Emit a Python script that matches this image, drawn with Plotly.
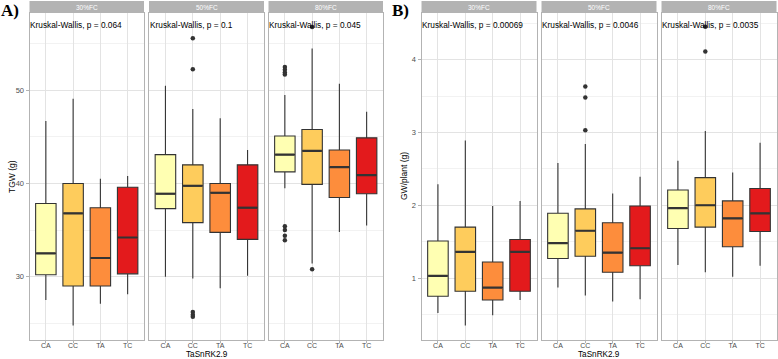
import plotly.graph_objects as go

genotypes = ["CA", "CC", "TA", "TC"]
facets = ["30%FC", "50%FC", "80%FC"]
fill_colors = ["#FFFFB2", "#FECC5C", "#FD8D3C", "#E31A1C"]

# ---- Panel A: TGW (g) ----  rows = facets, cols = genotypes
tgw_lower = [[27.5, 24.75, 27.1, 28.1], [30.0, 29.8, 28.75, 30.1], [39.5, 31.4, 34.8, 35.5]]
tgw_q1 = [[30.2, 29.0, 29.0, 30.3], [37.3, 35.8, 34.75, 34.0], [41.25, 39.9, 38.5, 38.9]]
tgw_median = [[32.5, 36.8, 32.0, 34.2], [38.9, 39.75, 39.0, 37.4], [43.1, 43.5, 41.75, 40.9]]
tgw_q3 = [[37.85, 40.0, 37.4, 39.6], [43.1, 42.0, 40.0, 42.0], [45.1, 45.8, 43.6, 44.9]]
tgw_upper = [[46.7, 49.1, 40.5, 40.8], [50.5, 48.0, 47.0, 43.6], [49.5, 54.5, 50.7, 47.7]]
tgw_outliers = [
    [[], [], [], []],
    [[], [55.6, 52.25, 26.2, 25.9, 25.7], [], []],
    [[52.5, 52.2, 51.9, 51.7, 35.4, 35.0, 34.4, 33.9], [56.8, 30.8], [], []],
]
tgw_pvalues = ["0.064", "0.1", "0.045"]

# ---- Panel B: GW/plant (g) ----
gw_lower = [[0.52, 0.35, 0.49, 0.70], [0.87, 0.76, 0.68, 0.71], [1.18, 1.08, 1.02, 1.17]]
gw_q1 = [[0.75, 0.82, 0.70, 0.82], [1.27, 1.30, 1.08, 1.17], [1.68, 1.70, 1.43, 1.64]]
gw_median = [[1.03, 1.36, 0.87, 1.36], [1.48, 1.65, 1.35, 1.41], [1.96, 2.00, 1.82, 1.89]]
gw_q3 = [[1.51, 1.70, 1.22, 1.53], [1.89, 1.95, 1.76, 1.99], [2.21, 2.38, 2.06, 2.23]]
gw_upper = [[2.29, 2.89, 1.99, 2.06], [2.58, 2.84, 2.16, 2.39], [2.61, 3.02, 2.45, 2.86]]
gw_outliers = [
    [[], [], [], []],
    [[], [3.63, 3.48, 3.03], [], []],
    [[], [4.45, 4.11], [], []],
]
gw_pvalues = ["0.00069", "0.0046", "0.0035"]

W, H = 778, 359
plot_top, plot_bottom = 13, 340
strip_top = 1

panels_px = [
    (29.5, 144), (149, 264), (268.5, 383),      # A
    (421.5, 536.5), (541.5, 656.5), (661.5, 776.5),  # B
]

def px_x(p):
    return p / W

def px_y(p):
    return 1 - p / H

traits = [
    dict(lower=tgw_lower, q1=tgw_q1, med=tgw_median, q3=tgw_q3, up=tgw_upper,
         out=tgw_outliers, pv=tgw_pvalues, yrange=[23.2, 58.3], dtick=10,
         ytitle="TGW (g)", label="A)"),
    dict(lower=gw_lower, q1=gw_q1, med=gw_median, q3=gw_q3, up=gw_upper,
         out=gw_outliers, pv=gw_pvalues, yrange=[0.15, 4.64], dtick=1,
         ytitle="GW/plant (g)", label="B)"),
]

fig = go.Figure()
layout = dict(
    width=W, height=H, margin=dict(l=0, r=0, t=0, b=0),
    paper_bgcolor="white", plot_bgcolor="white", showlegend=False,
    font=dict(family="Liberation Sans, Arial, sans-serif", color="#333333"),
)
annotations = []
shapes = []

box_w = 0.75
line_col = "#333333"

for t_i, tr in enumerate(traits):
    for f_i, facet in enumerate(facets):
        k = t_i * 3 + f_i + 1
        xa = "x" if k == 1 else f"x{k}"
        ya = "y" if k == 1 else f"y{k}"
        xl, xr = panels_px[k - 1]
        for g_i, g in enumerate(genotypes):
            fig.add_trace(go.Box(
                x=[g_i], q1=[tr["q1"][f_i][g_i]], median=[tr["med"][f_i][g_i]],
                q3=[tr["q3"][f_i][g_i]], lowerfence=[tr["lower"][f_i][g_i]],
                upperfence=[tr["up"][f_i][g_i]], width=box_w, whiskerwidth=0,
                fillcolor=fill_colors[g_i], line=dict(color=line_col, width=1.1),
                boxpoints=False, xaxis=xa, yaxis=ya, hoverinfo="skip",
            ))
            m = tr["med"][f_i][g_i]
            fig.add_trace(go.Scatter(
                x=[g_i - box_w / 2 + 0.02, g_i + box_w / 2 - 0.02], y=[m, m],
                mode="lines", line=dict(color=line_col, width=2.2),
                xaxis=xa, yaxis=ya, hoverinfo="skip",
            ))
            outs = tr["out"][f_i][g_i]
            if outs:
                fig.add_trace(go.Scatter(
                    x=[g_i] * len(outs), y=outs, mode="markers",
                    marker=dict(color=line_col, size=4.5),
                    xaxis=xa, yaxis=ya, hoverinfo="skip",
                ))
        xkey = "xaxis" if k == 1 else f"xaxis{k}"
        ykey = "yaxis" if k == 1 else f"yaxis{k}"
        layout[xkey] = dict(
            domain=[px_x(xl), px_x(xr)], anchor=ya, range=[-0.6, 3.6],
            tickmode="array", tickvals=list(range(4)), ticktext=genotypes,
            showgrid=True, gridcolor="#e3e3e3", gridwidth=1, zeroline=False,
            showline=True, mirror=True, linecolor="#b3b3b3", linewidth=1,
            ticks="outside", ticklen=2, tickcolor="#b3b3b3",
            ticklabelstandoff=-3,
            tickfont=dict(size=7, color="#4d4d4d"), fixedrange=True,
        )
        layout[ykey] = dict(
            domain=[px_y(plot_bottom), px_y(plot_top)], anchor=xa,
            range=tr["yrange"], dtick=tr["dtick"], tick0=0,
            showgrid=True, gridcolor="#e3e3e3", gridwidth=1, zeroline=False,
            minor=dict(dtick=tr["dtick"] / 2, showgrid=True, gridcolor="#f2f2f2", gridwidth=1),
            showline=True, mirror=True, linecolor="#b3b3b3", linewidth=1,
            ticks="outside" if f_i == 0 else "", ticklen=3, tickcolor="#b3b3b3",
            showticklabels=(f_i == 0),
            tickfont=dict(size=7.5, color="#4d4d4d"), fixedrange=True,
        )
        # strip
        shapes.append(dict(type="rect", xref="paper", yref="paper",
                           x0=px_x(xl), x1=px_x(xr), y0=px_y(plot_top - 0.5), y1=px_y(strip_top),
                           fillcolor="#b3b3b3", line=dict(width=0), layer="above"))
        annotations.append(dict(text=facet, xref="paper", yref="paper",
                                x=px_x((xl + xr) / 2), y=px_y((strip_top + plot_top) / 2),
                                showarrow=False, font=dict(size=6.5, color="white"),
                                xanchor="center", yanchor="middle"))
        # Kruskal-Wallis text
        annotations.append(dict(text=f"Kruskal-Wallis, p = {tr['pv'][f_i]}",
                                xref="paper", yref="paper",
                                x=px_x(xl - 1.5), y=px_y(25),
                                showarrow=False, font=dict(size=8.3, color="black"),
                                xanchor="left", yanchor="middle"))
    # y title
    xl0 = panels_px[t_i * 3][0]
    annotations.append(dict(text=tr["ytitle"], xref="paper", yref="paper",
                            x=px_x(xl0 - 18), y=px_y((plot_top + plot_bottom) / 2),
                            textangle=-90, showarrow=False,
                            font=dict(size=8.5, color="black"),
                            xanchor="center", yanchor="middle"))
    # x title
    mid_l, mid_r = panels_px[t_i * 3 + 1]
    annotations.append(dict(text="TaSnRK2.9", xref="paper", yref="paper",
                            x=px_x((mid_l + mid_r) / 2), y=px_y(354.6),
                            showarrow=False, font=dict(size=8.2, color="black"),
                            xanchor="center", yanchor="middle"))
    # panel label
    annotations.append(dict(text=f"<b>{tr['label']}</b>", xref="paper", yref="paper",
                            x=px_x(-1 if t_i == 0 else 390), y=px_y(11),
                            showarrow=False,
                            font=dict(size=17, color="black", family="Liberation Serif, Times New Roman, serif"),
                            xanchor="left", yanchor="middle"))

layout["annotations"] = annotations
layout["shapes"] = shapes
fig.update_layout(**layout)
fig.write_html("out.html", config={"displayModeBar": False},
               post_script="document.body.style.margin='0px';document.body.style.overflow='hidden';")
